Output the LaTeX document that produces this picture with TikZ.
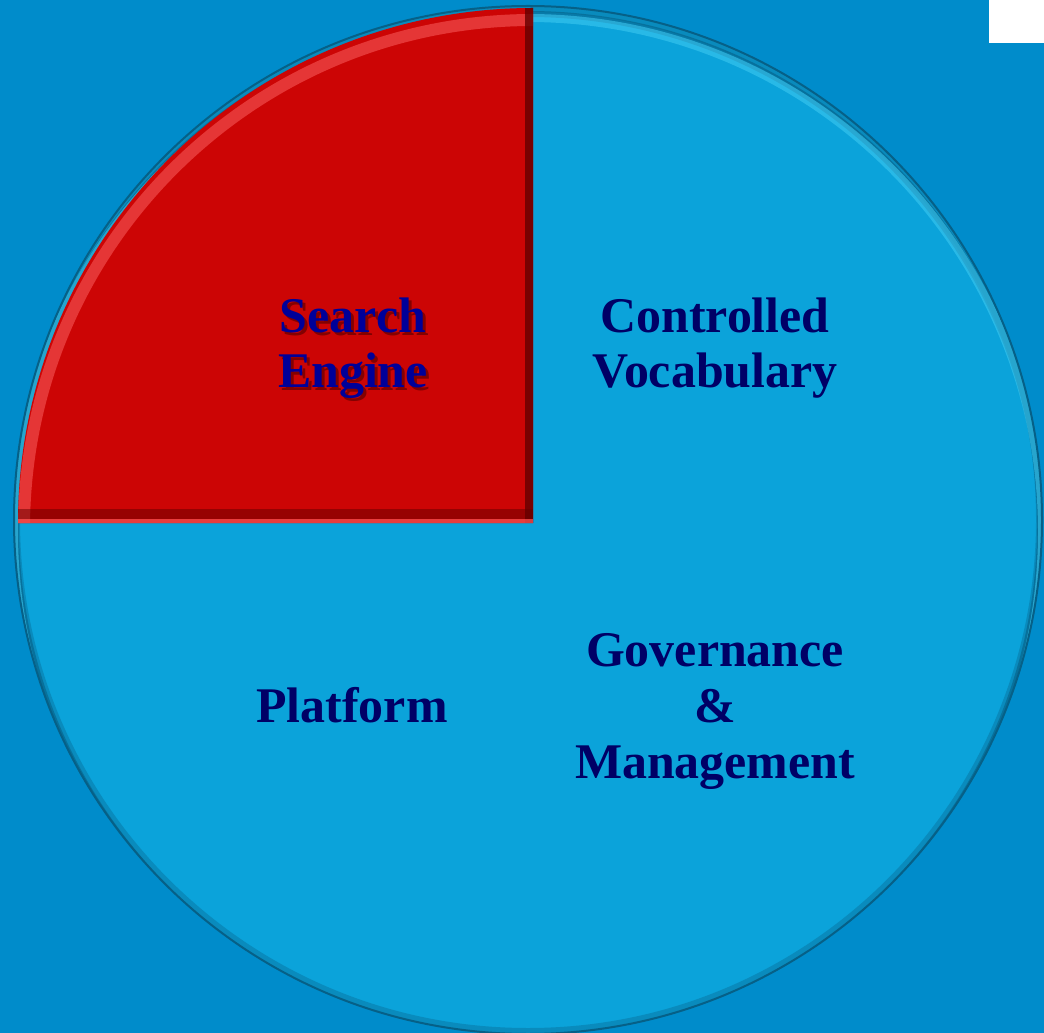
\documentclass[tikz,border=0pt]{standalone}
\usepackage{fontspec}
\setmainfont{Liberation Serif}
\usepackage{xcolor}
\definecolor{hintergrund}{RGB}{0,140,203}
\definecolor{tortenblau}{RGB}{11,163,218}
\definecolor{randblau}{RGB}{6,96,135}
\definecolor{hellblau}{RGB}{60,200,240}
\definecolor{tortenrot}{RGB}{204,5,5}
\definecolor{hellrot}{RGB}{240,75,75}
\definecolor{dunkelrot}{RGB}{100,0,0}
\definecolor{schriftblau}{RGB}{0,0,102}
\definecolor{schriftblau2}{RGB}{0,0,153}

\begin{document}
\begin{tikzpicture}[x=0.1mm, y=-0.1mm,
    beschriftung/.style={font=\fontsize{14.2}{15.9}\selectfont\bfseries, text=schriftblau, align=center, anchor=base, inner sep=0pt}]
    % Hintergrund
    \fill[hintergrund] (0,0) rectangle (1044,1033);
    \useasboundingbox (0,0) rectangle (1044,1033);
    \fill[white] (989,0) rectangle (1044,43);

    % Blaue Torte mit Rand
    \fill[tortenblau] (528,520) circle (514);
    \begin{scope}
        \clip (528,520) circle (514);
        \draw[randblau, line width=1.2mm, opacity=0.35] (528,520) circle (514);
        \draw[randblau, line width=0.6mm, opacity=0.6] (528,526) circle (512);
        \draw[hellblau, line width=0.8mm, opacity=0.6] (528,532) circle (514);
    \end{scope}
    \draw[randblau, line width=0.2mm] (528,520) circle (514);

    % Rotes Segment (Search Engine)
    \fill[tortenrot] (533,523) -- (18,523) arc[start angle=180, end angle=270, radius=515] -- cycle;
    \begin{scope}
        \clip (533,523) -- (18,523) arc[start angle=180, end angle=270, radius=515] -- cycle;
        \draw[hellrot, line width=1.2mm, opacity=0.7] (533,529) circle (509);  % helle Kante oben
        \draw[dunkelrot, line width=1.6mm, opacity=0.8] (533,0) -- (533,523);  % dunkle Kante rechts
        \draw[dunkelrot, line width=1mm, opacity=0.5] (0,514) -- (533,514);  % dunkle Kante unten
        \draw[hellrot, line width=0.6mm, opacity=0.8] (0,522) -- (533,522);
    \end{scope}

    % Beschriftungen
    \node[beschriftung, text=dunkelrot, opacity=0.7] (schatten) at (356,391) {Search\\Engine};
    \node[beschriftung, text=schriftblau2] (suche) at (353,388) {Search\\Engine};
    \node[beschriftung] (vokabular) at (715,388) {Controlled\\Vocabulary};
    \node[beschriftung] (plattform) at (352,722) {Platform};
    \node[beschriftung] (verwaltung) at (715,778) {Governance\\\&\\Management};
\end{tikzpicture}
\end{document}
